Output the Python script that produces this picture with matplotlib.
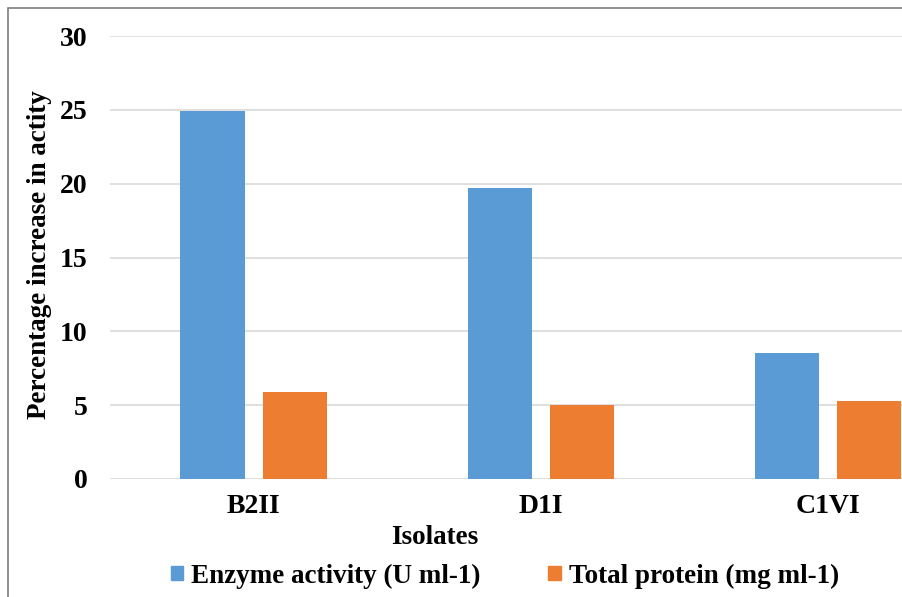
import matplotlib
matplotlib.use('Agg')
import matplotlib.pyplot as plt
import numpy as np
from matplotlib.patches import Patch, Rectangle

isolates = ['B2II', 'D1I', 'C1VI']
enzyme_activity = [24.9, 19.7, 8.5]
total_protein = [5.9, 5.0, 5.3]
series_names = ['Enzyme activity (U ml-1)', 'Total protein (mg ml-1)']
blue = '#5b9bd5'
orange = '#ed7d31'

plt.rcParams['font.family'] = ['Liberation Serif', 'DejaVu Serif']
plt.rcParams['font.weight'] = 'bold'

W, H = 902, 597
fig = plt.figure(figsize=(W / 100, H / 100), dpi=100)

# plot area runs off the right edge (cropped screenshot)
ax = fig.add_axes([110 / W, 118 / H, 861.5 / W, 443 / H])
x = np.arange(len(isolates))
bw = 0.223
ax.bar(x - 0.143, enzyme_activity, bw, color=blue, zorder=3)
ax.bar(x + 0.143, total_protein, bw, color=orange, zorder=3)

ax.set_xlim(-0.5, 2.5)
ax.set_ylim(0, 30)
ax.set_yticks(range(0, 31, 5))
ax.yaxis.grid(True, color='#d9d9d9', linewidth=1.2, zorder=0)
ax.set_xticks(x)
ax.set_xticklabels(isolates)
ax.tick_params(axis='both', length=0, labelsize=20)
ax.tick_params(axis='y', pad=16)
ax.tick_params(axis='x', pad=11)
for s in ax.spines.values():
    s.set_visible(False)

fig.text(40 / W, 1 - 255 / H, 'Percentage increase in actity', rotation=90,
         ha='center', va='center', fontsize=19.5, fontweight='bold')
fig.text(435 / W, 1 - 538 / H, 'Isolates', ha='center', va='center',
         fontsize=19.5, fontweight='bold')

handles = [Patch(color=blue), Patch(color=orange)]
fig.legend(handles, series_names, loc='center', bbox_to_anchor=(505 / W, 1 - 576 / H),
           ncol=2, frameon=False, fontsize=19.5, handlelength=0.45, handleheight=0.45,
           handletextpad=0.3, columnspacing=2.5)

# outer chart border
fig.patches.append(Rectangle((8 / W, -0.1), 1.2, 1 - 8 / H + 0.1, transform=fig.transFigure,
                             fill=False, edgecolor='#7f7f7f', linewidth=1.2))

fig.savefig('out.png', dpi=100)
